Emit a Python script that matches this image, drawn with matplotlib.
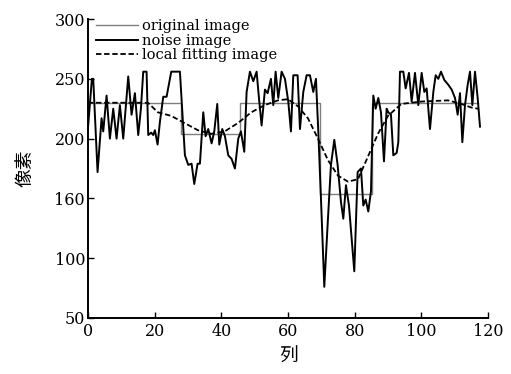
import matplotlib
matplotlib.use('Agg')
import matplotlib.pyplot as plt

# noise image (column, pixel value)
noise_x = [0, 1.2, 1.6, 2.9, 4.1, 4.6, 5.6, 6.6, 7.6, 8.6, 9.6, 10.6, 12.1, 13.1, 14.1,
           15.1, 15.9, 16.6, 17.6, 18.1, 19.0, 19.6, 20.1, 20.9, 21.6, 22.6, 23.6, 25.0,
           27.6, 29.1, 30.1, 31.1, 31.9, 32.9, 33.6, 34.6, 35.3, 36.1, 37.1, 37.9, 38.8,
           39.4, 40.3, 41.1, 42.1, 43.1, 44.1, 45.1, 45.9, 46.9, 47.6, 48.6, 49.6, 50.6,
           51.3, 52.1, 53.1, 53.9, 54.9, 55.6, 56.3, 57.1, 58.1, 59.1, 60.1, 60.9, 61.6,
           62.9, 63.6, 64.6, 65.6, 66.6, 67.6, 68.4, 69.1, 69.9, 70.9, 71.9, 72.9, 73.9,
           74.9, 75.9, 76.6, 77.4, 78.3, 79.1, 79.9, 80.9, 81.9, 82.6, 83.3, 84.1, 84.9,
           85.6, 86.3, 87.1, 87.9, 88.8, 89.6, 90.1, 90.9, 91.6, 92.6, 93.1, 93.6, 94.6,
           95.3, 96.3, 97.1, 98.1, 99.1, 100.1, 100.9, 101.6, 102.6, 103.6, 104.3, 105.1,
           105.9, 106.9, 108.1, 109.1, 110.1, 110.9, 111.6, 112.3, 113.1, 113.9, 114.6,
           115.3, 116.1, 116.9, 117.6]
noise_y = [208, 250, 250, 172, 217, 206, 236, 200, 225, 200, 228, 200, 252, 220, 238,
           203, 225, 256, 256, 203, 205, 203, 207, 195, 214, 235, 235, 256,
           256, 186, 178, 179, 162, 179, 179, 222, 202, 208, 196, 206, 229,
           195, 208, 202, 186, 183, 175, 200, 206, 189, 239, 256, 248, 256,
           234, 211, 241, 238, 250, 228, 256, 234, 256, 250, 231, 206, 253,
           253, 208, 239, 253, 253, 239, 250, 206, 150, 76, 128, 178, 199,
           178, 147, 133, 161, 144, 117, 89, 172, 175, 144, 149, 139, 156,
           236, 225, 234, 222, 181, 225, 222, 220, 186, 188, 197, 256, 256,
           242, 255, 231, 255, 228, 255, 239, 242, 208, 239, 253, 250,
           256, 249, 245, 241, 234, 220, 238, 197, 228, 245, 256,
           228, 256, 234, 210]

# original image: piecewise constant
orig_x = [0, 28, 45.5, 69.5, 85.3, 117]
orig_y = [230, 204, 230, 154, 230, 230]

# local fitting image
fit_x = [0, 5, 10, 15, 18, 21, 25, 29, 33, 37, 41, 45, 49, 53, 57, 60, 63, 66, 69,
         72, 75, 78, 81, 84, 87, 90, 94, 100, 108, 112, 115, 117]
fit_y = [230, 230, 230, 230, 230, 222, 219, 213, 207, 204, 206, 213, 222, 228, 232,
         233, 227, 217, 200, 182, 169, 164, 166, 185, 204, 219, 229, 231, 232, 229,
         226, 225]

yticks = [50, 100, 150, 200, 250, 300]
ytick_labels = ['50', '100', '160', '200', '250', '300']
xticks = [0, 20, 40, 60, 80, 100, 120]

plt.rcParams['font.family'] = ['DejaVu Serif']

fig = plt.figure(figsize=(5.11, 3.74), dpi=100)
ax = fig.add_axes([0.172, 0.150, 0.783, 0.799])

ax.plot(orig_x, orig_y, drawstyle='steps-post', color='#7f7f7f', lw=1.0,
        label='original image')
ax.plot(noise_x, noise_y, color='black', lw=1.4, label='noise image')
ax.plot(fit_x, fit_y, color='black', lw=1.3, ls=(0, (3, 1.5)),
        label='local fitting image')

ax.set_xlim(0, 120)
ax.set_ylim(50, 300)
ax.set_xticks(xticks)
ax.set_yticks(yticks)
ax.set_yticklabels(ytick_labels)
ax.tick_params(direction='in', length=4, width=1, labelsize=11.5)
ax.tick_params(axis='x', pad=4)
ax.tick_params(axis='y', pad=2)
for s in ['top', 'right']:
    ax.spines[s].set_visible(False)
for s in ['left', 'bottom']:
    ax.spines[s].set_linewidth(1.4)

ax.set_xlabel('列', family=['Noto Sans CJK SC'], fontsize=13.5, labelpad=4)
ax.set_ylabel('像素', family=['Noto Sans CJK SC'], fontsize=13.5, labelpad=14)

leg = ax.legend(loc='upper left', frameon=False, fontsize=10.5, handlelength=2.9,
                handletextpad=0.25, labelspacing=0.05, borderaxespad=0.0,
                bbox_to_anchor=(0.005, 1.02))

fig.savefig('out.png', dpi=100)
